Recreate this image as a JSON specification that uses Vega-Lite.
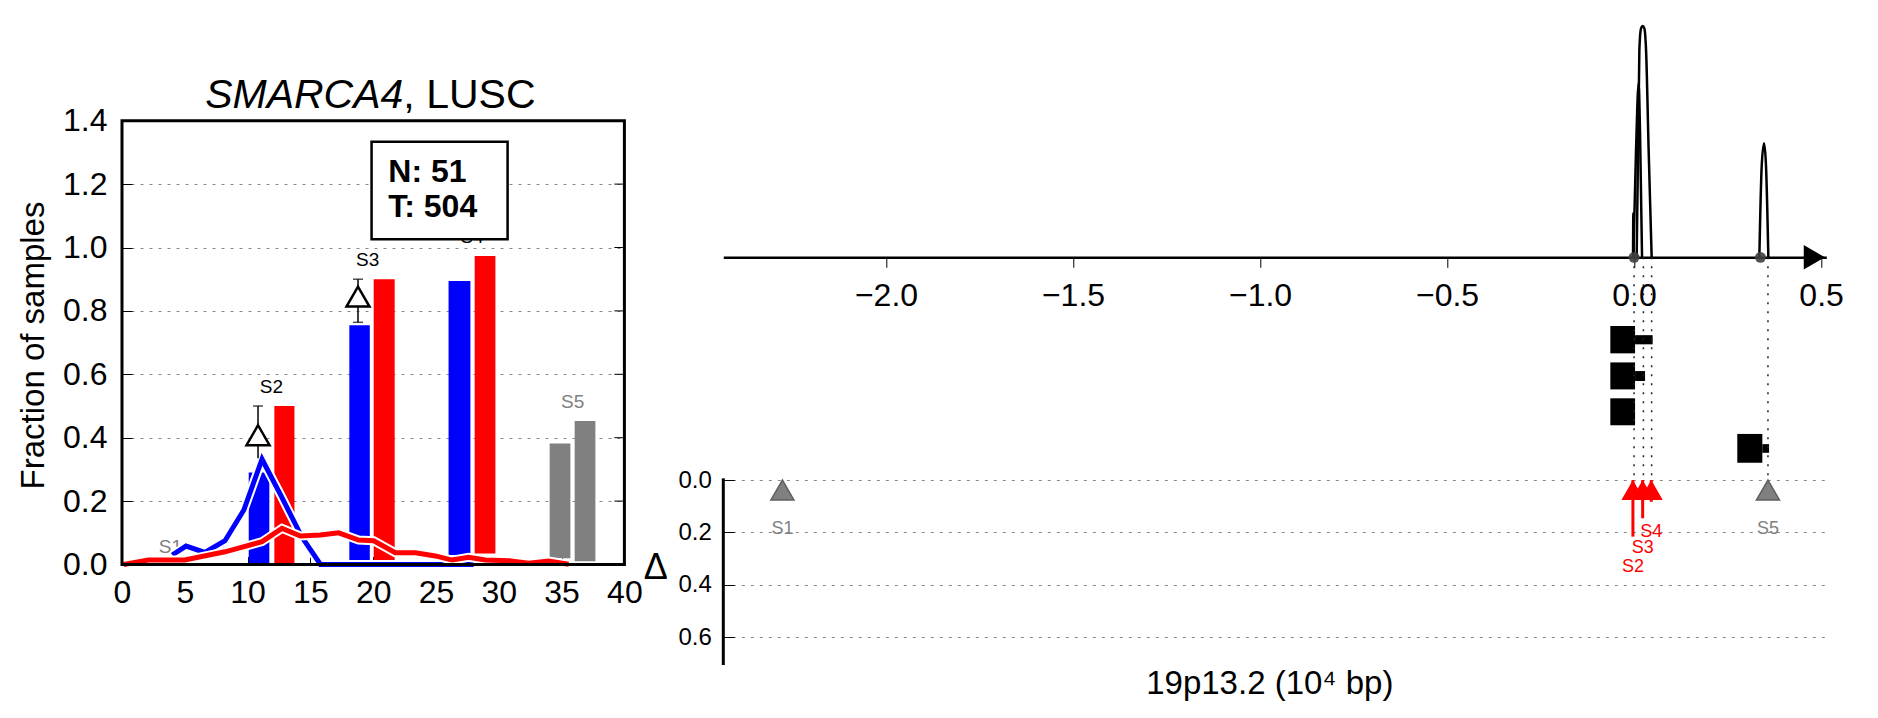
{
  "$schema": "https://vega.github.io/schema/vega-lite/v6.json",
  "background": "white",
  "padding": {"left": 17, "top": 20, "right": 5, "bottom": 5},
  "bounds": "flush",
  "spacing": 98.3,
  "config": {
    "view": {"stroke": null},
    "font": "Liberation Sans",
    "axis": {"labelFont": "Liberation Sans", "titleFont": "Liberation Sans", "labelColor": "#000000", "titleColor": "#000000", "titleFontWeight": "normal", "tickColor": "#000000", "domainColor": "#000000", "labelFlush": false, "labelOverlap": false},
    "text": {"font": "Liberation Sans"}
  },
  "datasets": {
    "bars": [
      {"sample": "S2", "group": "Normal", "x": 10.09, "x2": 11.73, "y": 0.005, "y2": 0.29},
      {"sample": "S2", "group": "Tumor", "x": 12.13, "x2": 13.73, "y": 0.005, "y2": 0.5},
      {"sample": "S3", "group": "Normal", "x": 18.1, "x2": 19.73, "y": 0.012, "y2": 0.755},
      {"sample": "S3", "group": "Tumor", "x": 20.04, "x2": 21.71, "y": 0.01, "y2": 0.9},
      {"sample": "S4", "group": "Normal", "x": 26.0, "x2": 27.74, "y": 0.03, "y2": 0.894},
      {"sample": "S4", "group": "Tumor", "x": 28.08, "x2": 29.73, "y": 0.035, "y2": 0.973},
      {"sample": "S5", "group": "Unassigned", "x": 34.05, "x2": 35.7, "y": 0.02, "y2": 0.382},
      {"sample": "S5", "group": "Unassigned", "x": 36.04, "x2": 37.69, "y": 0.01, "y2": 0.453}
    ],
    "curves": [
      {"group": "Normal", "x": 4.0, "y": 0.03},
      {"group": "Normal", "x": 5.1, "y": 0.058},
      {"group": "Normal", "x": 6.6, "y": 0.038},
      {"group": "Normal", "x": 8.2, "y": 0.075},
      {"group": "Normal", "x": 9.7, "y": 0.172},
      {"group": "Normal", "x": 11.15, "y": 0.332},
      {"group": "Normal", "x": 12.7, "y": 0.214},
      {"group": "Normal", "x": 14.3, "y": 0.088},
      {"group": "Normal", "x": 15.8, "y": 0.0},
      {"group": "Normal", "x": 28.0, "y": 0.0},
      {"group": "Tumor", "x": 0.13, "y": 0.0},
      {"group": "Tumor", "x": 2.1, "y": 0.014},
      {"group": "Tumor", "x": 5.0, "y": 0.014},
      {"group": "Tumor", "x": 8.2, "y": 0.04},
      {"group": "Tumor", "x": 11.15, "y": 0.072},
      {"group": "Tumor", "x": 12.74, "y": 0.114},
      {"group": "Tumor", "x": 14.2, "y": 0.09},
      {"group": "Tumor", "x": 15.8, "y": 0.093},
      {"group": "Tumor", "x": 17.25, "y": 0.1},
      {"group": "Tumor", "x": 18.84, "y": 0.077},
      {"group": "Tumor", "x": 20.04, "y": 0.075},
      {"group": "Tumor", "x": 21.76, "y": 0.037},
      {"group": "Tumor", "x": 23.36, "y": 0.037},
      {"group": "Tumor", "x": 24.95, "y": 0.027},
      {"group": "Tumor", "x": 26.28, "y": 0.014},
      {"group": "Tumor", "x": 27.6, "y": 0.023},
      {"group": "Tumor", "x": 28.93, "y": 0.014},
      {"group": "Tumor", "x": 30.8, "y": 0.012},
      {"group": "Tumor", "x": 32.38, "y": 0.004},
      {"group": "Tumor", "x": 33.97, "y": 0.011},
      {"group": "Tumor", "x": 35.56, "y": 0.001}
    ],
    "deltas": [
      {"sample": "S2", "x": 10.83, "y": 0.408, "lo": 0.335, "hi": 0.5},
      {"sample": "S3", "x": 18.79, "y": 0.845, "lo": 0.764, "hi": 0.9}
    ],
    "caps": [
      {"x": 10.83, "y": 0.5},
      {"x": 18.79, "y": 0.9},
      {"x": 18.79, "y": 0.764}
    ],
    "leftLabels": [
      {"label": "S1", "group": "Unassigned", "x": 3.85, "y": 0.056},
      {"label": "S2", "group": "Assigned", "x": 11.89, "y": 0.559},
      {"label": "S3", "group": "Assigned", "x": 19.56, "y": 0.961},
      {"label": "S4", "group": "Assigned", "x": 27.87, "y": 1.033},
      {"label": "S5", "group": "Unassigned", "x": 35.88, "y": 0.514}
    ],
    "box": [{"x": 19.87, "x2": 30.7, "y": 1.026, "y2": 1.334}],
    "counts": [
      {"text": "N: 51", "x": 21.2, "y": 1.208},
      {"text": "T: 504", "x": 21.2, "y": 1.097}
    ],
    "frame": [{"x": 0, "x2": 40, "y": 0, "y2": 1.4}],
    "frameTicks": [{"y": 0.2}, {"y": 0.4}, {"y": 0.6}, {"y": 0.8}, {"y": 1.0}, {"y": 1.2}],
    "segments": [
      {"x": -0.0634, "x2": 0.0027, "y": -0.588, "y2": -0.4836},
      {"x": 0.0027, "x2": 0.0497, "y": -0.553, "y2": -0.518},
      {"x": -0.0634, "x2": 0.0027, "y": -0.449, "y2": -0.346},
      {"x": 0.0027, "x2": 0.0294, "y": -0.416, "y2": -0.378},
      {"x": -0.0634, "x2": 0.0027, "y": -0.312, "y2": -0.209},
      {"x": 0.276, "x2": 0.343, "y": -0.176, "y2": -0.066},
      {"x": 0.343, "x2": 0.361, "y": -0.137, "y2": -0.104}
    ],
    "sites": [{"x": 0.0}, {"x": 0.025}, {"x": 0.047}, {"x": 0.358}],
    "peaks": [
      {"peak": "A", "x": 0.0070, "y": -0.85},
      {"peak": "A", "x": 0.0142, "y": -1.6412},
      {"peak": "A", "x": 0.0187, "y": -1.724},
      {"peak": "A", "x": 0.0230, "y": -1.7328},
      {"peak": "A", "x": 0.0275, "y": -1.724},
      {"peak": "A", "x": 0.0321, "y": -1.6412},
      {"peak": "A", "x": 0.0390, "y": -1.2595},
      {"peak": "A", "x": 0.0471, "y": -0.85},
      {"peak": "B", "x": -0.0019, "y": -0.85},
      {"peak": "B", "x": 0.0053, "y": -1.2595},
      {"peak": "B", "x": 0.0123, "y": -1.5141},
      {"peak": "B", "x": 0.0160, "y": -1.3244},
      {"peak": "B", "x": 0.0214, "y": -0.85},
      {"peak": "C", "x": -0.0027, "y": -0.85},
      {"peak": "C", "x": -0.0019, "y": -1.0179},
      {"peak": "C", "x": -0.0011, "y": -0.85},
      {"peak": "D", "x": 0.3350, "y": -0.85},
      {"peak": "D", "x": 0.3412, "y": -1.1958},
      {"peak": "D", "x": 0.3476, "y": -1.2851},
      {"peak": "D", "x": 0.3529, "y": -1.1958},
      {"peak": "D", "x": 0.3591, "y": -0.85}
    ],
    "axisDots": [{"x": 0.0}, {"x": 0.338}],
    "markers": [
      {"sample": "S1", "group": "Unassigned", "x": -2.277, "delta": 0},
      {"sample": "S2", "group": "Tumor", "x": -0.003, "delta": 0.216},
      {"sample": "S3", "group": "Tumor", "x": 0.023, "delta": 0.146},
      {"sample": "S4", "group": "Tumor", "x": 0.046, "delta": 0.083},
      {"sample": "S5", "group": "Unassigned", "x": 0.358, "delta": 0}
    ]
  },
  "hconcat": [
    {
      "width": 502.4,
      "height": 544.5,
      "layer": [
        {
          "data": {"name": "bars"},
          "mark": {"type": "rect"},
          "encoding": {
            "x": {"field": "x", "type": "quantitative", "scale": {"domain": [0, 40], "nice": false, "zero": false},
              "axis": {"values": [0, 5, 10, 15, 20, 25, 30, 35, 40], "format": "d", "domain": false, "grid": false, "tickSize": -8, "tickWidth": 1, "labelPadding": 21, "labelFontSize": 32, "title": null}},
            "x2": {"field": "x2"},
            "y": {"field": "y", "type": "quantitative", "scale": {"domain": [0, 1.7177], "nice": false, "zero": false},
              "axis": {"values": [0, 0.2, 0.4, 0.6, 0.8, 1.0, 1.2, 1.4], "format": ".1f", "domain": false, "grid": true, "gridDash": [3, 6], "gridColor": "#888888", "gridWidth": 1, "tickSize": -10, "tickWidth": 1, "labelPadding": 25, "labelFontSize": 32, "title": "Fraction of samples", "titleFontSize": 33, "titleX": -89, "titleY": 325, "titleAngle": -90, "titleBaseline": "middle", "titleAlign": "center"}},
            "y2": {"field": "y2"},
            "color": {"field": "group", "type": "nominal", "scale": {"domain": ["Normal", "Tumor", "Unassigned", "Assigned"], "range": ["#0000ff", "#ff0000", "#808080", "#000000"]}, "legend": null}
          }
        },
        {
          "data": {"name": "leftLabels"},
          "mark": {"type": "text", "fontSize": 19, "baseline": "middle", "align": "center"},
          "encoding": {
            "x": {"field": "x", "type": "quantitative"},
            "y": {"field": "y", "type": "quantitative"},
            "text": {"field": "label"},
            "color": {"field": "group", "type": "nominal", "scale": {"domain": ["Normal", "Tumor", "Unassigned", "Assigned"], "range": ["#0000ff", "#ff0000", "#808080", "#000000"]}, "legend": null}
          }
        },
        {
          "data": {"name": "curves"},
          "transform": [{"filter": "datum.group === 'Normal'"}],
          "mark": {"type": "line", "color": "white", "strokeWidth": 9},
          "encoding": {"x": {"field": "x", "type": "quantitative"}, "y": {"field": "y", "type": "quantitative"}}
        },
        {
          "data": {"name": "curves"},
          "transform": [{"filter": "datum.group === 'Normal'"}],
          "mark": {"type": "line", "strokeWidth": 5},
          "encoding": {"x": {"field": "x", "type": "quantitative"}, "y": {"field": "y", "type": "quantitative"},
            "color": {"field": "group", "type": "nominal", "scale": {"domain": ["Normal", "Tumor", "Unassigned", "Assigned"], "range": ["#0000ff", "#ff0000", "#808080", "#000000"]}, "legend": null}}
        },
        {
          "data": {"name": "curves"},
          "transform": [{"filter": "datum.group === 'Tumor'"}],
          "mark": {"type": "line", "color": "white", "strokeWidth": 9},
          "encoding": {"x": {"field": "x", "type": "quantitative"}, "y": {"field": "y", "type": "quantitative"}}
        },
        {
          "data": {"name": "curves"},
          "transform": [{"filter": "datum.group === 'Tumor'"}],
          "mark": {"type": "line", "strokeWidth": 5},
          "encoding": {"x": {"field": "x", "type": "quantitative"}, "y": {"field": "y", "type": "quantitative"},
            "color": {"field": "group", "type": "nominal", "scale": {"domain": ["Normal", "Tumor", "Unassigned", "Assigned"], "range": ["#0000ff", "#ff0000", "#808080", "#000000"]}, "legend": null}}
        },
        {
          "data": {"name": "deltas"},
          "mark": {"type": "rule", "color": "black", "strokeWidth": 1.5},
          "encoding": {"x": {"field": "x", "type": "quantitative"}, "y": {"field": "lo", "type": "quantitative"}, "y2": {"field": "hi"}}
        },
        {
          "data": {"name": "caps"},
          "mark": {"type": "tick", "orient": "horizontal", "color": "black", "thickness": 1.5, "size": 10},
          "encoding": {"x": {"field": "x", "type": "quantitative"}, "y": {"field": "y", "type": "quantitative"}}
        },
        {
          "data": {"name": "deltas"},
          "mark": {"type": "point", "shape": "triangle-up", "filled": true, "fill": "white", "stroke": "black", "strokeWidth": 2.5, "size": 530, "opacity": 1},
          "encoding": {"x": {"field": "x", "type": "quantitative"}, "y": {"field": "y", "type": "quantitative"}}
        },
        {
          "data": {"name": "frameTicks"},
          "mark": {"type": "rule", "color": "black", "strokeWidth": 1},
          "encoding": {"x": {"datum": 39.2}, "x2": {"datum": 40}, "y": {"field": "y", "type": "quantitative"}}
        },
        {
          "data": {"name": "frame"},
          "mark": {"type": "rect", "fill": "white", "fillOpacity": 0, "stroke": "black", "strokeWidth": 3},
          "encoding": {"x": {"field": "x", "type": "quantitative"}, "x2": {"field": "x2"}, "y": {"field": "y", "type": "quantitative"}, "y2": {"field": "y2"}}
        },
        {
          "data": {"name": "box"},
          "mark": {"type": "rect", "fill": "white", "stroke": "black", "strokeWidth": 2.5},
          "encoding": {"x": {"field": "x", "type": "quantitative"}, "x2": {"field": "x2"}, "y": {"field": "y", "type": "quantitative"}, "y2": {"field": "y2"}}
        },
        {
          "data": {"name": "counts"},
          "mark": {"type": "text", "fontSize": 32, "fontWeight": "bold", "align": "left", "baseline": "alphabetic", "color": "black"},
          "encoding": {"x": {"field": "x", "type": "quantitative"}, "y": {"field": "y", "type": "quantitative"}, "text": {"field": "text"}}
        },
        {
          "data": {"values": [{"text": "SMARCA4", "x": 22.4, "y": 1.4392}]},
          "mark": {"type": "text", "fontSize": 41, "fontStyle": "italic", "align": "right", "baseline": "alphabetic", "color": "black"},
          "encoding": {"x": {"field": "x", "type": "quantitative"}, "y": {"field": "y", "type": "quantitative"}, "text": {"field": "text"}}
        },
        {
          "data": {"values": [{"text": ", LUSC", "x": 22.4, "y": 1.4392}]},
          "mark": {"type": "text", "fontSize": 41, "align": "left", "baseline": "alphabetic", "color": "black"},
          "encoding": {"x": {"field": "x", "type": "quantitative"}, "y": {"field": "y", "type": "quantitative"}, "text": {"field": "text"}}
        }
      ]
    },
    {
      "width": 1103,
      "height": 645,
      "layer": [
        {
          "data": {"name": "segments"},
          "mark": {"type": "rect", "color": "black"},
          "encoding": {
            "x": {"field": "x", "type": "quantitative", "scale": {"domain": [-2.435, 0.514], "nice": false, "zero": false},
              "axis": {"orient": "bottom", "offset": -407.7, "values": [-2, -1.5, -1, -0.5, 0, 0.5], "format": ".1f", "grid": false, "domain": true, "domainWidth": 2.5, "tickSize": 10, "tickWidth": 1, "labelPadding": 13, "labelFontSize": 32, "title": "19p13.2 (10⁴ bp)", "titleFontSize": 33, "titleX": 546, "titleY": 425.7, "titleBaseline": "middle", "titleAlign": "center"}},
            "x2": {"field": "x2"},
            "y": {"field": "y", "type": "quantitative", "scale": {"domain": [-1.756, 0.706], "nice": false, "zero": false, "reverse": true},
              "axis": {"orient": "left", "values": [0, 0.2, 0.4, 0.6], "format": ".1f", "grid": true, "gridDash": [3, 6], "gridColor": "#888888", "gridWidth": 1, "domain": false, "tickSize": -11, "tickWidth": 1, "labelPadding": 23, "labelFontSize": 24, "title": "Δ", "titleFontSize": 36, "titleAngle": 0, "titleX": -68, "titleY": 547, "titleBaseline": "middle", "titleAlign": "center"}},
            "y2": {"field": "y2"}
          }
        },
        {
          "data": {"name": "sites"},
          "mark": {"type": "rule", "color": "#222222", "strokeWidth": 1.5, "strokeDash": [2, 7]},
          "encoding": {"x": {"field": "x", "type": "quantitative"}, "y": {"datum": -0.85}, "y2": {"datum": 0}}
        },
        {
          "data": {"name": "peaks"},
          "mark": {"type": "line", "color": "black", "strokeWidth": 2.5, "interpolate": "monotone"},
          "encoding": {"x": {"field": "x", "type": "quantitative"}, "y": {"field": "y", "type": "quantitative"}, "detail": {"field": "peak"}}
        },
        {
          "data": {"name": "axisDots"},
          "mark": {"type": "circle", "color": "#404040", "opacity": 0.9, "size": 120},
          "encoding": {"x": {"field": "x", "type": "quantitative"}, "y": {"datum": -0.85}}
        },
        {
          "data": {"values": [{}]},
          "mark": {"type": "point", "shape": "triangle-right", "filled": true, "color": "black", "size": 600, "opacity": 1},
          "encoding": {"x": {"datum": 0.482}, "y": {"datum": -0.85}}
        },
        {
          "data": {"values": [{}]},
          "mark": {"type": "rule", "color": "black", "strokeWidth": 3},
          "encoding": {"x": {"datum": -2.435}, "y": {"datum": -0.0065}, "y2": {"datum": 0.706}}
        },
        {
          "data": {"name": "markers"},
          "transform": [{"filter": "datum.group === 'Tumor'"}],
          "mark": {"type": "rule", "color": "#ff0000", "strokeWidth": 3},
          "encoding": {"x": {"field": "x", "type": "quantitative"}, "y": {"field": "delta", "type": "quantitative"}, "y2": {"datum": 0}}
        },
        {
          "data": {"name": "markers"},
          "transform": [{"filter": "datum.group === 'Tumor'"}],
          "mark": {"type": "point", "shape": "triangle-up", "filled": true, "size": 530, "opacity": 1},
          "encoding": {"x": {"field": "x", "type": "quantitative"}, "y": {"datum": 0.038},
            "color": {"field": "group", "type": "nominal", "scale": {"domain": ["Normal", "Tumor", "Unassigned", "Assigned"], "range": ["#0000ff", "#ff0000", "#808080", "#000000"]}, "legend": null}}
        },
        {
          "data": {"name": "markers"},
          "transform": [{"filter": "datum.group === 'Unassigned'"}],
          "mark": {"type": "point", "shape": "triangle-up", "filled": true, "size": 530, "opacity": 1, "stroke": "#5f5f5f", "strokeWidth": 1.5},
          "encoding": {"x": {"field": "x", "type": "quantitative"}, "y": {"datum": 0.038},
            "color": {"field": "group", "type": "nominal", "scale": {"domain": ["Normal", "Tumor", "Unassigned", "Assigned"], "range": ["#0000ff", "#ff0000", "#808080", "#000000"]}, "legend": null}}
        },
        {
          "data": {"name": "markers"},
          "transform": [{"filter": "datum.group === 'Tumor'"}],
          "mark": {"type": "text", "fontSize": 18, "dy": 30, "baseline": "middle", "align": "center"},
          "encoding": {"x": {"field": "x", "type": "quantitative"}, "y": {"field": "delta", "type": "quantitative"}, "text": {"field": "sample"},
            "color": {"field": "group", "type": "nominal", "scale": {"domain": ["Normal", "Tumor", "Unassigned", "Assigned"], "range": ["#0000ff", "#ff0000", "#808080", "#000000"]}, "legend": null}}
        },
        {
          "data": {"name": "markers"},
          "transform": [{"filter": "datum.group === 'Unassigned'"}],
          "mark": {"type": "text", "fontSize": 18, "dy": 49, "baseline": "middle", "align": "center"},
          "encoding": {"x": {"field": "x", "type": "quantitative"}, "y": {"field": "delta", "type": "quantitative"}, "text": {"field": "sample"},
            "color": {"field": "group", "type": "nominal", "scale": {"domain": ["Normal", "Tumor", "Unassigned", "Assigned"], "range": ["#0000ff", "#ff0000", "#808080", "#000000"]}, "legend": null}}
        }
      ]
    }
  ]
}
